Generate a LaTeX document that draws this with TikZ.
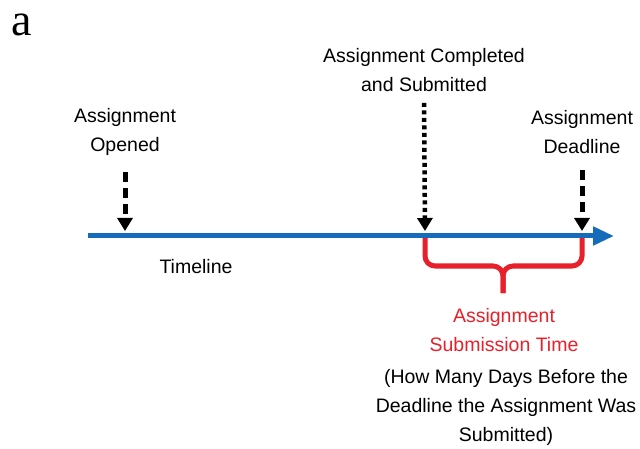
\documentclass[tikz,border=0pt]{standalone}
\usepackage{fontspec}
\setmainfont{Liberation Sans}
\newfontfamily\panelfont{Liberation Serif}
\usetikzlibrary{arrows.meta}
\definecolor{lineblue}{RGB}{22,108,186}
\definecolor{bracered}{RGB}{232,32,44}
\tikzset{
  lbl/.style={align=center, inner sep=0pt, font=\fontsize{19.5}{29}\selectfont},
  dasharrow/.style={line width=5pt, dash pattern=on 10pt off 6pt,
    -{Triangle[width=15pt,length=13pt]}},
  dotarrow/.style={line width=4.5pt, dash pattern=on 4pt off 3.5pt,
    -{Triangle[width=15pt,length=13pt]}},
  braceline/.style={draw=bracered, line width=5pt, rounded corners=10pt},
}
\begin{document}
\begin{tikzpicture}[x=1pt,y=-1pt]
\useasboundingbox[fill=white] (0,0) rectangle (640,449);

% panel letter
\node[inner sep=0pt, anchor=base, font=\panelfont\fontsize{46}{46}\selectfont] (panel) at (22,36) {a};

% points on the timeline
\coordinate (tOpen) at (125,231);
\coordinate (tSub)  at (425,231);
\coordinate (tDead) at (582,231);
\coordinate (lineL) at (88,236);
\coordinate (lineR) at (614,236);
\coordinate (braceMid) at (503,266);
\coordinate (braceTip) at (503,293);

% labels
\node[lbl] (opened) at (125,132) {Assignment\\Opened};
\node[lbl] (submitted) at (424,70) {Assignment Completed\\and Submitted};
\node[lbl] (deadline) at (582,132) {Assignment\\Deadline};
\node[lbl] (timeline) at (196,267) {Timeline};
\node[lbl, text=bracered] (subtime) at (504,330) {Assignment\\Submission Time};
\node[lbl] (explain) at (506,407) {(How Many Days Before the\\Deadline the Assignment Was\\Submitted)};

% brace under the submission interval
\draw[braceline] (tSub |- lineL) |- (braceMid) -- (braceTip);
\draw[braceline] (tDead |- lineL) |- (braceMid) -- (braceTip);

% timeline
\draw[draw=lineblue, line width=5pt, -{Triangle[width=18pt,length=21pt]}] (lineL) -- (lineR);

% event arrows
\draw[dasharrow, shorten <=16pt] (opened.south) -- (tOpen);
\draw[dotarrow, shorten <=11pt] (submitted.south) -- (tSub);
\draw[dasharrow, shorten <=16pt] (deadline.south) -- (tDead);
\end{tikzpicture}
\end{document}
